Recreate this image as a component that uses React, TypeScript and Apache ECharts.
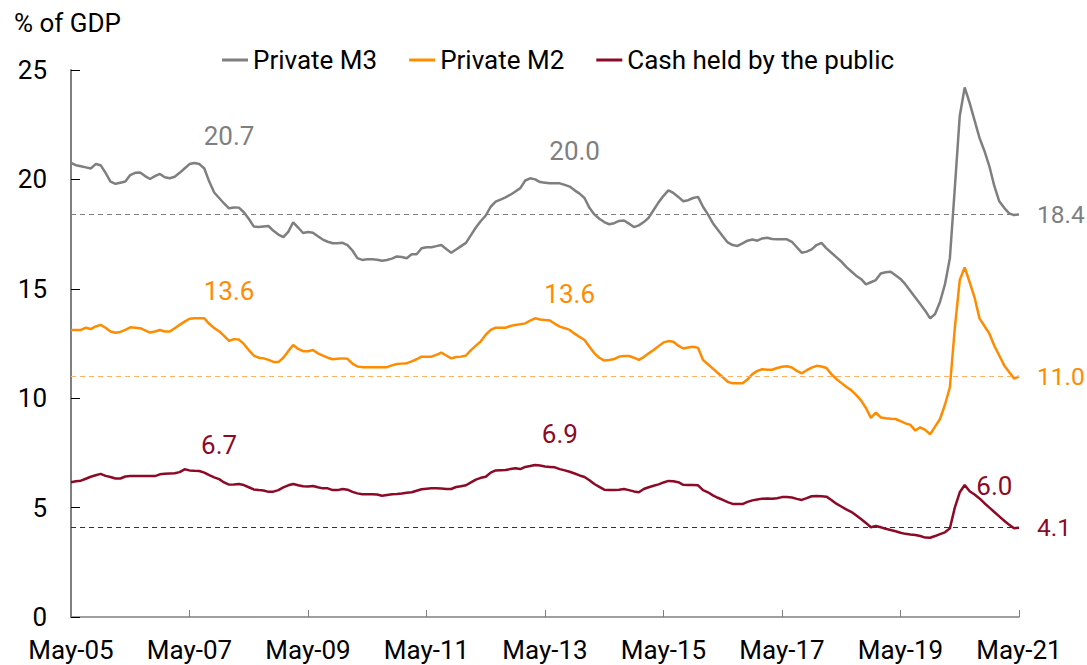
import React, { useEffect, useRef } from "react";
import * as echarts from "echarts";

const MONTHS = ["Jan","Feb","Mar","Apr","May","Jun","Jul","Aug","Sep","Oct","Nov","Dec"];
const START_MONTH = 4; // May
const START_YEAR = 5; // 2005
const N = 193;
const categories: string[] = [];
for (let k = 0; k < N; k++) {
  const m = (START_MONTH + k) % 12;
  const y = START_YEAR + Math.floor((START_MONTH + k) / 12);
  categories.push(`${MONTHS[m]}-${String(y).padStart(2, "0")}`);
}

const privateM3 = [
  20.75,20.65,20.6,20.55,20.5,20.7,20.65,20.3,19.9,19.8,
  19.85,19.9,20.2,20.3,20.32,20.15,20.02,20.15,20.25,20.1,
  20.05,20.12,20.3,20.5,20.7,20.75,20.7,20.5,19.9,19.4,
  19.15,18.9,18.68,18.72,18.71,18.5,18.2,17.85,17.82,17.85,
  17.87,17.65,17.48,17.36,17.6,18.04,17.8,17.55,17.6,17.56,
  17.4,17.25,17.15,17.08,17.08,17.1,17.0,16.75,16.4,16.32,
  16.35,16.35,16.33,16.28,16.32,16.38,16.48,16.45,16.4,16.58,
  16.58,16.85,16.9,16.9,16.95,17.0,16.82,16.65,16.8,16.95,
  17.1,17.45,17.8,18.1,18.35,18.75,18.98,19.08,19.18,19.3,
  19.45,19.6,19.95,20.05,20.0,19.88,19.85,19.82,19.82,19.82,
  19.75,19.67,19.5,19.35,19.15,18.7,18.4,18.2,18.05,17.95,
  18.0,18.1,18.12,17.98,17.82,17.9,18.05,18.25,18.6,18.95,
  19.25,19.5,19.38,19.2,19.0,19.05,19.15,19.2,18.75,18.4,
  18.0,17.7,17.4,17.12,17.0,16.96,17.08,17.2,17.25,17.2,
  17.3,17.33,17.28,17.26,17.26,17.26,17.15,16.9,16.65,16.7,
  16.8,17.0,17.1,16.85,16.65,16.45,16.25,16.0,15.8,15.6,
  15.45,15.2,15.3,15.4,15.7,15.76,15.78,15.62,15.45,15.2,
  14.9,14.6,14.3,14.0,13.65,13.85,14.4,15.2,16.4,19.6,
  22.9,24.2,23.5,22.7,21.9,21.3,20.6,19.7,19.0,18.7,
  18.45,18.37,18.4
];

const privateM2 = [
  13.12,13.12,13.12,13.22,13.16,13.28,13.35,13.22,13.05,12.99,
  13.03,13.12,13.24,13.22,13.2,13.1,13.0,13.05,13.12,13.05,
  13.05,13.2,13.35,13.5,13.63,13.65,13.65,13.65,13.4,13.2,
  13.06,12.85,12.62,12.7,12.68,12.48,12.2,11.95,11.85,11.82,
  11.75,11.66,11.65,11.85,12.15,12.43,12.25,12.15,12.15,12.2,
  12.05,11.95,11.85,11.78,11.8,11.82,11.8,11.58,11.45,11.42,
  11.42,11.42,11.42,11.42,11.42,11.5,11.56,11.58,11.6,11.68,
  11.78,11.9,11.9,11.9,11.98,12.08,11.95,11.82,11.88,11.9,
  11.95,12.2,12.4,12.6,12.9,13.12,13.22,13.22,13.22,13.3,
  13.35,13.38,13.42,13.55,13.65,13.6,13.57,13.55,13.4,13.27,
  13.2,13.12,12.95,12.8,12.66,12.35,12.05,11.85,11.72,11.75,
  11.79,11.9,11.93,11.93,11.85,11.75,11.88,12.05,12.2,12.38,
  12.55,12.61,12.58,12.4,12.27,12.32,12.35,12.3,11.75,11.55,
  11.35,11.15,10.96,10.75,10.68,10.68,10.68,10.85,11.1,11.25,
  11.32,11.3,11.3,11.38,11.44,11.46,11.4,11.25,11.14,11.28,
  11.4,11.48,11.45,11.38,11.1,10.88,10.7,10.52,10.37,10.15,
  9.9,9.55,9.1,9.34,9.12,9.08,9.06,9.05,8.95,8.85,
  8.78,8.52,8.67,8.55,8.35,8.7,9.05,9.7,10.5,13.2,
  15.4,15.98,15.3,14.6,13.65,13.3,12.95,12.4,11.95,11.5,
  11.2,10.9,11.0
];

const cashHeld = [
  6.16,6.2,6.23,6.32,6.41,6.48,6.54,6.45,6.4,6.33,
  6.33,6.42,6.44,6.44,6.44,6.44,6.44,6.44,6.52,6.55,
  6.56,6.57,6.62,6.75,6.7,6.68,6.67,6.6,6.48,6.38,
  6.3,6.15,6.05,6.06,6.08,6.03,5.93,5.83,5.8,5.78,
  5.72,5.73,5.8,5.92,6.02,6.08,6.02,5.98,5.96,5.99,
  5.93,5.88,5.88,5.8,5.8,5.85,5.82,5.72,5.65,5.61,
  5.61,5.61,5.6,5.54,5.58,5.61,5.62,5.64,5.68,5.7,
  5.77,5.84,5.86,5.88,5.88,5.87,5.85,5.85,5.94,5.98,
  6.02,6.15,6.28,6.36,6.41,6.6,6.7,6.71,6.72,6.76,
  6.8,6.76,6.86,6.9,6.95,6.92,6.88,6.86,6.84,6.76,
  6.7,6.64,6.56,6.47,6.4,6.25,6.08,5.95,5.82,5.8,
  5.8,5.82,5.85,5.8,5.74,5.7,5.85,5.93,6.0,6.06,
  6.15,6.22,6.2,6.16,6.04,6.03,6.03,6.02,5.8,5.7,
  5.56,5.45,5.35,5.25,5.17,5.16,5.16,5.26,5.33,5.37,
  5.41,5.42,5.4,5.43,5.48,5.48,5.46,5.4,5.35,5.43,
  5.52,5.53,5.52,5.5,5.35,5.18,5.05,4.92,4.81,4.65,
  4.48,4.3,4.1,4.16,4.1,4.03,3.98,3.92,3.85,3.8,
  3.77,3.75,3.7,3.63,3.62,3.7,3.79,3.87,4.05,5.0,
  5.7,6.03,5.75,5.6,5.42,5.2,5.0,4.8,4.6,4.4,
  4.22,4.06,4.08
];

const yTicks = { min: 0, max: 25, interval: 5 };
const refM3 = 18.4;
const refM2 = 11.0;
const refCash = 4.1;

// annotation texts: [category index, value, text]
const notesM3: [number, number, string][] = [[32, 21.98, "20.7"], [102, 21.3, "20.0"]];
const notesM2: [number, number, string][] = [[32, 14.92, "13.6"], [101, 14.74, "13.6"]];
const notesCash: [number, number, string][] = [[30, 7.86, "6.7"], [99, 8.36, "6.9"], [187, 6.01, "6.0"]];

const GREY = "#7f7f7f";
const ORANGE = "#ff8c00";
const RED = "#8c0a26";
const FS = 26;

function mk(color: string, notes: [number, number, string][], ref: number, dashColor: string) {
  return {
    markPoint: {
      symbol: "circle",
      symbolSize: 1,
      itemStyle: { color: "rgba(0,0,0,0)" },
      label: { show: true, position: "inside", formatter: "{b}", color, fontSize: FS, fontFamily: "Roboto" },
      data: notes.map(([i, v, t]) => ({ name: t, coord: [categories[i], v] })),
    },
    markLine: {
      silent: true,
      symbol: ["none", "none"],
      lineStyle: { color: dashColor, width: 1, type: [5, 4] },
      label: {
        show: true,
        position: "end",
        distance: 18,
        formatter: ref.toFixed(1),
        color,
        fontSize: 24.5,
        fontFamily: "Roboto",
      },
      data: [{ yAxis: ref }],
    },
  };
}

export default function App() {
  const ref = useRef<HTMLDivElement>(null);
  useEffect(() => {
    if (!ref.current) return;
    const chart = echarts.init(ref.current, undefined, { renderer: "svg" });
    chart.setOption({
      animation: false,
      textStyle: { fontFamily: "Roboto" },
      title: {
        text: "% of GDP",
        left: 9,
        top: 5,
        textStyle: { fontSize: FS, fontWeight: "normal", color: "#000", fontFamily: "Roboto" },
      },
      legend: {
        left: 217,
        top: 42,
        icon: "rect",
        itemWidth: 26,
        itemHeight: 3,
        itemGap: 32,
        textStyle: { fontSize: FS, color: "#000", fontFamily: "Roboto", padding: [0, 0, 0, 0] },
        data: ["Private M3", "Private M2", "Cash held by the public"],
      },
      grid: { left: 71, right: 68, top: 70, bottom: 48 },
      xAxis: {
        type: "category",
        boundaryGap: false,
        data: categories,
        axisLine: { lineStyle: { color: GREY, width: 1.5 } },
        axisTick: { inside: true, interval: 23, length: 7, lineStyle: { color: GREY } },
        axisLabel: { interval: 23, fontSize: FS, color: "#000", margin: 20, hideOverlap: false },
        splitLine: { show: false },
      },
      yAxis: {
        type: "value",
        min: yTicks.min,
        max: yTicks.max,
        interval: yTicks.interval,
        axisLine: { show: true, lineStyle: { color: GREY, width: 2 } },
        axisTick: { show: true, inside: true, length: 9, lineStyle: { color: "#000" } },
        axisLabel: { fontSize: FS, color: "#000", margin: 24 },
        splitLine: { show: false },
      },
      series: [
        {
          name: "Private M3",
          type: "line",
          data: privateM3,
          symbol: "none",
          itemStyle: { color: GREY },
          lineStyle: { color: GREY, width: 2.5 },
          z: 3,
          ...mk(GREY, notesM3, refM3, GREY),
        },
        {
          name: "Private M2",
          type: "line",
          data: privateM2,
          symbol: "none",
          itemStyle: { color: ORANGE },
          lineStyle: { color: ORANGE, width: 2.5 },
          z: 3,
          ...mk(ORANGE, notesM2, refM2, "#ffb060"),
        },
        {
          name: "Cash held by the public",
          type: "line",
          data: cashHeld,
          symbol: "none",
          itemStyle: { color: RED },
          lineStyle: { color: RED, width: 2.5 },
          z: 3,
          ...mk(RED, notesCash, refCash, RED),
        },
      ],
    });
    return () => chart.dispose();
  }, []);
  return (
    <div
      ref={ref}
      style={{ position: "absolute", left: 0, top: 0, width: 1087, height: 665 }}
    />
  );
}
